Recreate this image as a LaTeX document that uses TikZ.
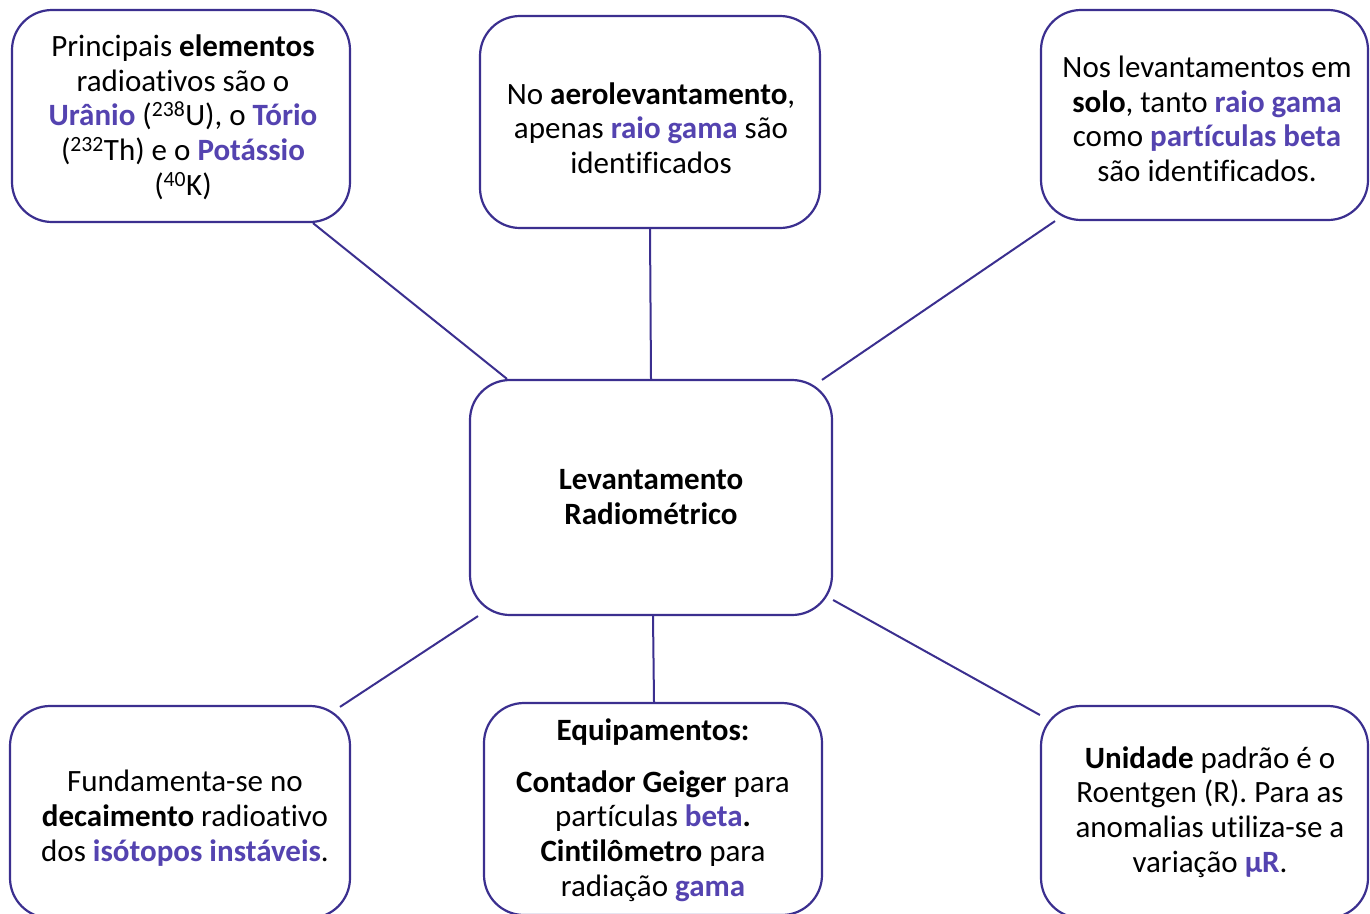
\documentclass[tikz,border=0pt]{standalone}
\usepackage{fontspec}
\setmainfont[Ligatures=NoCommon]{Carlito}
\definecolor{edge}{HTML}{3B2F8F}
\definecolor{hl}{HTML}{5443B0}
\newcommand{\hb}[1]{\textbf{\textcolor{hl}{#1}}}
\begin{document}
\begin{tikzpicture}[x=1pt,y=-1pt,
  box/.style={draw=edge,line width=2.2pt,rounded corners=40pt,fill=white,inner sep=0pt},
  txt/.style={align=center,font=\fontsize{31}{34.7}\selectfont,inner sep=0pt},
  link/.style={draw=edge,line width=2pt}]
\useasboundingbox (0,0) rectangle (1370,913);
\clip (0,0) rectangle (1370,913);
% boxes
\node[box,minimum width=338pt,minimum height=212pt] (tl) at (181,116) {};
\node[box,minimum width=340pt,minimum height=212pt] (tm) at (650,122) {};
\node[box,minimum width=327pt,minimum height=210pt] (tr) at (1204.5,115) {};
\node[box,minimum width=362pt,minimum height=235pt] (c) at (651,497.5) {};
\node[box,minimum width=340pt,minimum height=212pt] (bl) at (180,812) {};
\node[box,minimum width=338pt,minimum height=212pt] (bm) at (653,809) {};
\node[box,minimum width=327pt,minimum height=212pt] (br) at (1204.5,812) {};
% connectors
\draw[link] ([xshift=132pt]tl.south) -- ([xshift=-144pt]c.north);
\draw[link] (tm.south) -- (c.north);
\draw[link] ([xshift=-149.5pt]tr.south) -- ([xshift=171pt,yshift=-1pt]c.north);
\draw[link] ([xshift=-173pt]c.south) -- ([xshift=160pt,yshift=-2pt]bl.north);
\draw[link] ([xshift=2pt]c.south) -- ([xshift=1pt]bm.north);
\draw[link] ([yshift=-102.5pt]c.east) -- ([yshift=97pt]br.west);
% texts
\node[txt] (ttl) at (183,117) {Principais \textbf{elementos}\\radioativos são o\\\hb{Urânio} (\textsuperscript{238}U), o \hb{Tório}\\(\textsuperscript{232}Th) e o \hb{Potássio}\\(\textsuperscript{40}K)};
\node[txt] (ttm) at (651,128) {No \textbf{aerolevantamento},\\apenas \hb{raio gama} são\\identificados};
\node[txt] (ttr) at (1207,119) {Nos levantamentos em\\\textbf{solo}, tanto \hb{raio gama}\\como \hb{partículas beta}\\são identificados.};
\node[txt] (tc) at (651,497) {\textbf{Levantamento}\\\textbf{Radiométrico}};
\node[txt] (tbl) at (185,818) {Fundamenta-se no\\\textbf{decaimento} radioativo\\dos \hb{isótopos instáveis}.};
\node[txt] (tbm) at (653,810) {\textbf{Equipamentos:}\\[17pt]\textbf{Contador Geiger} para\\partículas \hb{beta}\textbf{.}\\\textbf{Cintilômetro} para\\radiação \hb{gama}};
\node[txt] (tbr) at (1210,812) {\textbf{Unidade} padrão é o\\Roentgen (R). Para as\\anomalias utiliza-se a\\variação \hb{µR}.};
\end{tikzpicture}
\end{document}
